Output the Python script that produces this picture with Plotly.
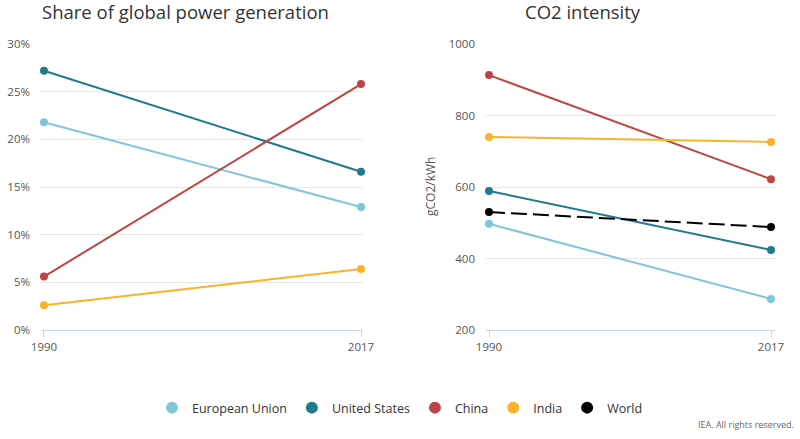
import plotly.graph_objects as go

years = [1990, 2017]
series_names = ["European Union", "United States", "China", "India", "World"]
colors = ["#7fc6d8", "#1e7b8c", "#c04444", "#fbb22a", "#000000"]
share = {
    "European Union": [21.8, 12.9],
    "United States": [27.2, 16.6],
    "China": [5.6, 25.8],
    "India": [2.6, 6.4],
}
intensity = {
    "European Union": [497, 287],
    "United States": [589, 424],
    "China": [913, 622],
    "India": [740, 726],
    "World": [530, 488],
}
share_ticks = [0, 5, 10, 15, 20, 25, 30]
share_tick_labels = ["0%", "5%", "10%", "15%", "20%", "25%", "30%"]
intensity_ticks = [200, 400, 600, 800, 1000]

W, H = 800, 439
def px(x): return x / W
def py(y): return 1 - y / H

fig = go.Figure()
for name, col in zip(series_names, colors):
    if name in share:
        fig.add_trace(go.Scatter(x=years, y=share[name], mode="lines+markers", name=name,
                                 line=dict(color=col, width=2), marker=dict(size=8, color=col),
                                 xaxis="x", yaxis="y", showlegend=False, cliponaxis=False))
for name, col in zip(series_names, colors):
    fig.add_trace(go.Scatter(x=years, y=intensity[name], mode="lines+markers", name=name,
                             line=dict(color=col, width=2, dash="16px,6px" if name == "World" else "solid"),
                             marker=dict(size=8, color=col),
                             xaxis="x2", yaxis="y2", showlegend=False, cliponaxis=False))
# legend entries (circle only)
for name, col in zip(series_names, colors):
    fig.add_trace(go.Scatter(x=[None], y=[None], mode="markers", name=name,
                             marker=dict(size=12, color=col), xaxis="x2", yaxis="y2",
                             showlegend=True))

tickfont = dict(family="Open Sans", size=11.5, color="#555555")
common_x = dict(tickmode="array", tickvals=years, ticktext=["1990", "2017"], showgrid=False,
                zeroline=False, showline=True, linecolor="#ccd6eb", ticks="outside",
                tickcolor="#ccd6eb", ticklen=6, tickfont=tickfont)
common_y = dict(showgrid=True, gridcolor="#e6e6e6", zeroline=False, showline=False,
                tickfont=tickfont, ticks="", ticklabelstandoff=10)

fig.update_layout(
    width=W, height=H,
    margin=dict(l=0, r=0, t=0, b=0, autoexpand=False),
    paper_bgcolor="white", plot_bgcolor="white",
    font=dict(family="Open Sans", color="#333333"),
    xaxis=dict(domain=[px(41), px(363)], range=[1989.745, 2017.17], anchor="y", **common_x),
    yaxis=dict(domain=[py(330), py(44)], range=[0, 30], anchor="x", tickmode="array",
               tickvals=share_ticks, ticktext=share_tick_labels, **common_y),
    xaxis2=dict(domain=[px(486), px(775)], range=[1989.713, 2017.383], anchor="y2", **common_x),
    yaxis2=dict(domain=[py(330), py(44)], range=[200, 1000], anchor="x2", tickmode="array",
                tickvals=intensity_ticks, ticktext=[str(v) for v in intensity_ticks], **common_y),
    legend=dict(orientation="h", x=0.5, xanchor="center", y=py(408), yanchor="middle",
                font=dict(family="Open Sans", size=12.5, color="#333333"),
                itemsizing="constant", traceorder="normal"),
    showlegend=True,
    annotations=[
        dict(text="Share of global power generation", x=px(40), y=py(12), xref="paper", yref="paper",
             xanchor="left", yanchor="middle", showarrow=False,
             font=dict(family="Open Sans", size=18.5, color="#333333")),
        dict(text="CO2 intensity", x=px(583), y=py(12), xref="paper", yref="paper",
             xanchor="center", yanchor="middle", showarrow=False,
             font=dict(family="Open Sans", size=18.5, color="#333333")),
        dict(text="gCO2/kWh", x=px(430), y=py(187), xref="paper", yref="paper",
             xanchor="center", yanchor="middle", showarrow=False, textangle=-90,
             font=dict(family="Open Sans", size=12, color="#555555")),
        dict(text="IEA. All rights reserved.", x=px(796), y=py(424), xref="paper", yref="paper",
             xanchor="right", yanchor="middle", showarrow=False,
             font=dict(family="Open Sans", size=9, color="#666666")),
    ],
)

fig.write_html("out.html", config={"displayModeBar": False},
               post_script="document.body.style.margin='0';")
